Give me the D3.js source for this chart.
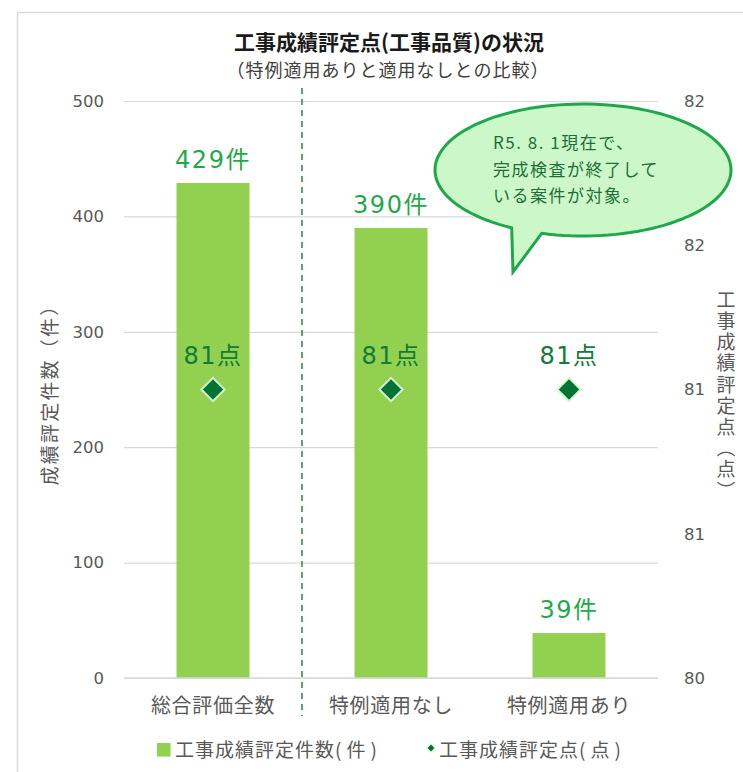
<!DOCTYPE html>
<html>
<head>
<meta charset="utf-8">
<script src="https://cdn.jsdelivr.net/npm/d3@7"></script>
<style>
  html, body { margin: 0; padding: 0; background: #fff; }
</style>
</head>
<body>
<svg id="chart" width="743" height="772"></svg>
<script>
// Categories and series
const categories = ["総合評価全数", "特例適用なし", "特例適用あり"];
const counts = [429, 390, 39];          // 工事成績評定件数（件）
const scores = [81, 81, 81];            // 工事成績評定点（点）
const countTicks = [0, 100, 200, 300, 400, 500];
const scoreTicks = [80, 80.5, 81, 81.5, 82];
const seriesNames = [["工事成績評定件数", "(件)"], ["工事成績評定点", "(点)"]];
const noteLines = ["R5. 8. 1現在で、", "完成検査が終了して", "いる案件が対象。"];

const JP = "'Noto Sans CJK JP', sans-serif";
const NUM = "'DejaVu Sans', 'Noto Sans CJK JP', sans-serif";

const svg = d3.select("#chart");
const W = 743, H = 772;
const plot = { left: 124, right: 658, top: 101, bottom: 678 };

// Outer frame
svg.append("rect")
  .attr("x", 17.5).attr("y", 12.5)
  .attr("width", W + 20).attr("height", H + 20)
  .attr("fill", "#fff").attr("stroke", "#d9d9d9").attr("stroke-width", 1.5);

// Scales
const x = d3.scaleBand().domain(categories).range([plot.left, plot.right]).paddingInner(0.59).paddingOuter(0.295);
const xc = d3.scaleBand().domain(categories).range([plot.left, plot.right]);
const yL = d3.scaleLinear().domain([0, 500]).range([plot.bottom, plot.top]);
const yR = d3.scaleLinear().domain([80, 82]).range([plot.bottom, plot.top]);

// Titles
svg.append("text").attr("font-family", JP)
  .attr("x", 389).attr("y", 50).attr("text-anchor", "middle")
  .attr("font-size", 21).attr("font-weight", "bold").attr("fill", "#1a1a1a")
  .text("工事成績評定点(工事品質)の状況");
svg.append("text").attr("font-family", JP)
  .attr("x", 388).attr("y", 77).attr("text-anchor", "middle")
  .attr("font-size", 18).attr("letter-spacing", 1).attr("fill", "#404040")
  .text("（特例適用ありと適用なしとの比較）");

// Gridlines and left axis
const gLeft = svg.append("g").attr("transform", `translate(${plot.left},0)`)
  .call(d3.axisLeft(yL).tickValues(countTicks).tickSize(-(plot.right - plot.left)).tickPadding(20));
gLeft.select(".domain").remove();
gLeft.selectAll(".tick line").attr("stroke", "#d9d9d9").attr("stroke-width", 1.2);
gLeft.selectAll(".tick text").attr("font-size", 16.5).attr("fill", "#595959").attr("font-family", NUM);

// Right axis (labels only)
const gRight = svg.append("g").attr("transform", `translate(${plot.right},0)`)
  .call(d3.axisRight(yR).tickValues(scoreTicks).tickFormat(d3.format(".0f")).tickSize(0).tickPadding(26));
gRight.select(".domain").remove();
gRight.selectAll(".tick text").attr("font-size", 16.5).attr("fill", "#595959").attr("font-family", NUM);

// Axis titles
svg.append("text").attr("font-family", JP)
  .attr("transform", `translate(57,390) rotate(-90)`)
  .attr("text-anchor", "middle").attr("font-size", 19).attr("letter-spacing", 2.2).attr("fill", "#595959")
  .text("成績評定件数（件）");
svg.append("text").attr("font-family", JP)
  .attr("x", 726).attr("y", 396)
  .attr("writing-mode", "vertical-rl").attr("text-anchor", "middle")
  .attr("font-size", 19).attr("letter-spacing", 2.2).attr("fill", "#595959")
  .text("工事成績評定点（点）");

// Bars
svg.append("g").selectAll("rect").data(categories).join("rect")
  .attr("x", d => x(d))
  .attr("width", x.bandwidth())
  .attr("y", (d, i) => yL(counts[i]))
  .attr("height", (d, i) => yL(0) - yL(counts[i]))
  .attr("fill", "#92d050");

// Baseline
svg.append("line").attr("x1", plot.left).attr("x2", plot.right)
  .attr("y1", yL(0)).attr("y2", yL(0)).attr("stroke", "#d9d9d9").attr("stroke-width", 1.5);

// Divider between total and breakdown
const divX = xc(categories[1]);
svg.append("line").attr("x1", divX).attr("x2", divX).attr("y1", 88).attr("y2", 716)
  .attr("stroke", "#1f8a45").attr("stroke-width", 1.5).attr("stroke-dasharray", "6,5");

// Bar value labels
svg.append("g").selectAll("text").data(categories).join("text")
  .attr("font-family", NUM)
  .attr("x", d => xc(d) + xc.bandwidth() / 2)
  .attr("y", (d, i) => yL(counts[i]) - 15)
  .attr("text-anchor", "middle").attr("font-size", 24).attr("letter-spacing", 1.5)
  .attr("fill", "#1faa4a")
  .text((d, i) => counts[i] + "件");

// Score markers
svg.append("g").selectAll("path").data(categories).join("path")
  .attr("transform", (d, i) => `translate(${xc(d) + xc.bandwidth() / 2},${yR(scores[i])}) rotate(45)`)
  .attr("d", d3.symbol().type(d3.symbolSquare).size(270))
  .attr("fill", "#007434").attr("stroke", "#d8f5d0").attr("stroke-width", 2);

// Score labels
svg.append("g").selectAll("text").data(categories).join("text")
  .attr("font-family", NUM)
  .attr("x", d => xc(d) + xc.bandwidth() / 2)
  .attr("y", (d, i) => yR(scores[i]) - 26)
  .attr("text-anchor", "middle").attr("font-size", 24).attr("letter-spacing", 1.5)
  .attr("fill", "#137a3a")
  .text((d, i) => scores[i] + "点");

// Category labels
svg.append("g").selectAll("text").data(categories).join("text")
  .attr("font-family", JP)
  .attr("x", d => xc(d) + xc.bandwidth() / 2)
  .attr("y", 713)
  .attr("text-anchor", "middle").attr("font-size", 20).attr("letter-spacing", 0.7).attr("fill", "#595959")
  .text(d => d);

// Legend
const lg = svg.append("g");
lg.append("rect").attr("x", 157).attr("y", 743).attr("width", 13.5).attr("height", 13.5).attr("fill", "#92d050");
lg.append("path").attr("transform", "translate(431,748) rotate(45)")
  .attr("d", d3.symbol().type(d3.symbolSquare).size(34))
  .attr("fill", "#007434").attr("stroke", "#d8f5d0").attr("stroke-width", 1);
const legendX = [175, 439];
seriesNames.forEach((parts, i) => {
  const t = lg.append("text").attr("font-family", JP).attr("x", legendX[i]).attr("y", 757)
    .attr("font-size", 19).attr("fill", "#595959");
  t.append("tspan").attr("letter-spacing", 1).text(parts[0]);
  t.append("tspan").attr("letter-spacing", 5).text(parts[1]);
});

// Callout bubble
const cx = 583, cy = 170, rx = 148, ry = 66;
const a1 = Math.PI * 0.66, a2 = Math.PI * 0.59;
const p1 = [cx + rx * Math.cos(a1), cy + ry * Math.sin(a1)];
const p2 = [cx + rx * Math.cos(a2), cy + ry * Math.sin(a2)];
const tip = [513, 272];
const bubble = d3.path();
bubble.moveTo(p2[0], p2[1]);
bubble.lineTo(tip[0], tip[1]);
bubble.lineTo(p1[0], p1[1]);
// sweep the ellipse the long way round back to p2
const steps = 120;
for (let k = 1; k <= steps; k++) {
  const t = a1 + (2 * Math.PI - (a1 - a2)) * k / steps;
  bubble.lineTo(cx + rx * Math.cos(t), cy + ry * Math.sin(t));
}
bubble.closePath();
svg.append("path").attr("d", bubble.toString())
  .attr("fill", "#ccf7c8").attr("stroke", "#1fa84a").attr("stroke-width", 3).attr("stroke-linejoin", "miter");

svg.append("g").selectAll("text").data(noteLines).join("text")
  .attr("font-family", JP)
  .attr("x", 493).attr("y", (d, i) => 149 + i * 26.5)
  .attr("font-size", 17).attr("letter-spacing", 1.5).attr("fill", "#1e6e38")
  .text(d => d);
</script>
</body>
</html>
